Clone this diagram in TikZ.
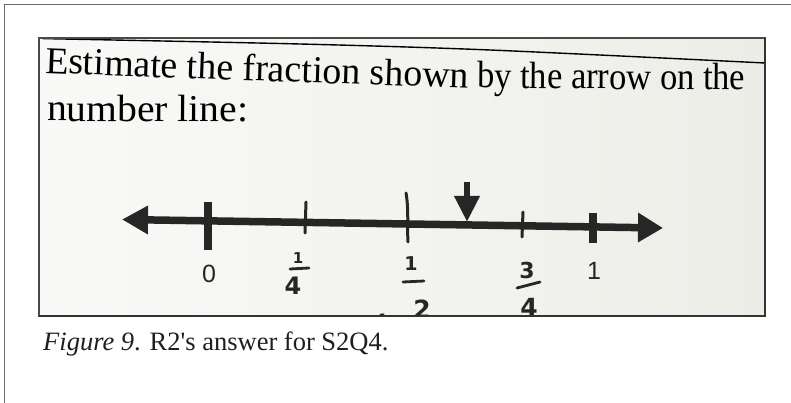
\documentclass[tikz,border=0pt]{standalone}
\usepackage{fontspec}
\setmainfont{Liberation Serif}
\newfontfamily\labfont{Liberation Sans}
\newfontfamily\handfont{DejaVu Sans}
\usetikzlibrary{arrows.meta}
\definecolor{ink}{HTML}{262626}
\definecolor{frameg}{HTML}{6A6A6A}
\definecolor{boxg}{HTML}{4A4A4A}
\definecolor{paperL}{HTML}{F9F9F7}
\definecolor{paperR}{HTML}{EDEDE8}
\tikzset{
  printed/.style={font=\fontsize{38}{44}\selectfont, text=black, inner sep=0pt, anchor=base west},
  hand/.style={ink, line width=3pt, line cap=round},
  handtxt/.style={text=ink, inner sep=0pt},
  ticklbl/.style={text=ink, inner sep=0pt, font=\labfont\fontsize{25}{25}\selectfont},
  bigtick/.style={ink, line width=8pt},
}
\begin{document}
\begin{tikzpicture}[x=1pt,y=-1pt]
\useasboundingbox (0,0) rectangle (791,403);
% outer frame
\draw[frameg, line width=1.2pt] (4.5,403) -- (4.5,4.5) -- (791,4.5);
% photo
\shade[left color=paperL, right color=paperR] (39,38) rectangle (765,316);
\begin{scope}
\clip (39,38) rectangle (765,316);
\draw[black, line width=1.4pt] plot[smooth] coordinates {(43,38.6) (300,44) (490,50) (765,63)};
\node[printed, rotate=-2.2] (t1) at (45,73) {\resizebox{188pt}{\height}{Estimate the}};
\node[printed, rotate=-1.9] (t1b) at (242.5,80.5) {\resizebox{226pt}{\height}{fraction shown}};
\node[printed, rotate=-0.45] (t2) at (477,88) {\resizebox{268pt}{\height}{by the arrow on the}};
\node[printed, rotate=-0.3] (t3) at (47,121) {\resizebox{201pt}{\height}{number line:}};
% number line
\coordinate (L) at (122,219.5);
\coordinate (R) at (663,228);
\draw[ink, line width=7.5pt, {Triangle[length=26pt,width=27pt]}-{Triangle[length=25pt,width=28pt]}] (L) -- (R);
% printed ticks
\coordinate (z0) at (208,202); \coordinate (z1) at (208,250);
\draw[bigtick] (z0) -- (z1);
\coordinate (o0) at (593,213); \coordinate (o1) at (593,243);
\draw[bigtick] (o0) -- (o1);
\node[ticklbl] (n0) at (209,274) {0};
\node[ticklbl] (n1) at (594,271) {1};
% handwritten ticks
\coordinate (q0) at (306,202); \coordinate (q1) at (305,233);
\draw[hand] (q0) -- (q1);
\coordinate (h0) at (406,193); \coordinate (h1) at (408,242);
\draw[hand] (h0) .. controls (409,210) and (407,228) .. (h1);
\coordinate (r0) at (523,212); \coordinate (r1) at (522,237);
\draw[hand] (r0) -- (r1);
% handwritten arrow
\coordinate (a0) at (467,182); \coordinate (a1) at (467,222);
\draw[ink, line width=6.5pt, -{Triangle[length=26pt,width=24pt]}] (a0) -- (a1);
% handwritten fractions
\node[handtxt, font=\handfont\bfseries\fontsize{15}{15}\selectfont] (f1n) at (298,258) {1};
\coordinate (b1a) at (290,269); \coordinate (b1b) at (309,268);
\draw[hand, line width=2.8pt] (b1a) -- (b1b);
\node[handtxt, font=\handfont\bfseries\fontsize{24}{24}\selectfont] (f1d) at (293,286) {4};
\node[handtxt, font=\handfont\bfseries\fontsize{19}{19}\selectfont] (f2n) at (411,264) {1};
\coordinate (b2a) at (403,282); \coordinate (b2b) at (424,281);
\draw[hand, line width=2.8pt] (b2a) -- (b2b);
\node[handtxt, font=\handfont\bfseries\fontsize{25}{25}\selectfont] (f2d) at (422,309) {2};
\node[handtxt, font=\handfont\bfseries\fontsize{13}{13}\selectfont] (f2x) at (383,319) {1};
\node[handtxt, font=\handfont\bfseries\fontsize{22}{22}\selectfont] (f3n) at (527,270) {3};
\coordinate (b3a) at (517,288); \coordinate (b3b) at (540,282);
\draw[hand, line width=2.8pt] (b3a) -- (b3b);
\node[handtxt, font=\handfont\bfseries\fontsize{25}{25}\selectfont] (f3d) at (529,307) {4};
\end{scope}
% photo border
\draw[boxg, line width=1.2pt] (39,38) rectangle (765,316);
\draw[black!80, line width=1.6pt] (765,38.5) -- (765,316) -- (39,316);
% caption
\node[inner sep=0pt, anchor=base west, text=black!88, font=\fontsize{26.5}{30}\selectfont] (cap) at (43,350) {\textit{Figure 9}. R2\textquotesingle s answer for S2Q4.};
\end{tikzpicture}
\end{document}
